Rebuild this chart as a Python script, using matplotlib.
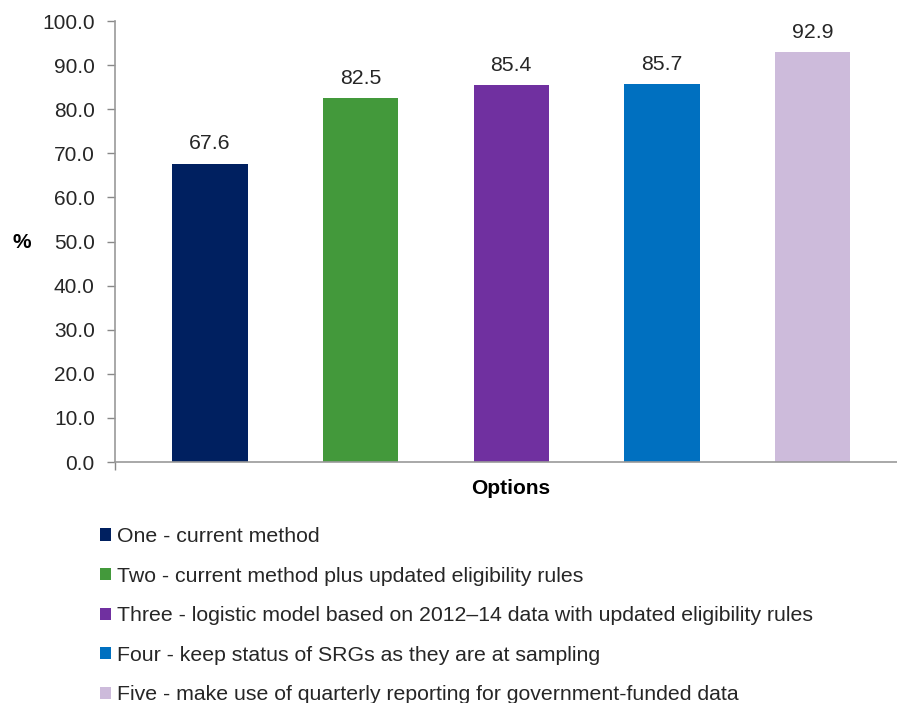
import matplotlib.pyplot as plt
from matplotlib.patches import Patch

plt.rcParams['font.family'] = ['Liberation Sans', 'DejaVu Sans']

# --- data ---
options = ['One - current method',
           'Two - current method plus updated eligibility rules',
           'Three - logistic model based on 2012\u201314 data with updated eligibility rules',
           'Four - keep status of SRGs as they are at sampling',
           'Five - make use of quarterly reporting for government-funded data']
values = [67.6, 82.5, 85.4, 85.7, 92.9]
colors = ['#002060', '#43993B', '#7030A0', '#0070C0', '#CDBBDB']
yticks = [0, 10, 20, 30, 40, 50, 60, 70, 80, 90, 100]

fig = plt.figure(figsize=(8.97, 7.03), dpi=100)
ax = fig.add_axes([0.1282, 0.3428, 0.8718, 0.6273])

x = list(range(len(values)))
ax.bar(x, values, width=0.5, color=colors, zorder=2)

for xi, v in zip(x, values):
    ax.annotate(f'{v:.1f}', (xi, v), xytext=(0, 7.5), textcoords='offset points',
                ha='center', va='bottom', fontsize=15.3, color='#262626')

ax.set_xlim(-0.63, 4.56)
ax.set_ylim(0, 100)
ax.set_yticks(yticks)
ax.set_yticklabels([f'{t:.1f}' for t in yticks], fontsize=15, color='#262626')
ax.set_xticks([-0.63])
ax.set_xticklabels([''])
ax.tick_params(axis='y', direction='out', length=6, color='#888888', width=1, pad=8.5)
ax.tick_params(axis='x', direction='out', length=6, color='#888888', width=1)

for side in ['top', 'right']:
    ax.spines[side].set_visible(False)
for side in ['left', 'bottom']:
    ax.spines[side].set_color('#999999')
    ax.spines[side].set_linewidth(1.2)

fig.text(22 / 897, 1 - 243 / 703, '%', fontsize=15, fontweight='bold',
         ha='center', va='center', color='#000000')
fig.text(511 / 897, 1 - 489 / 703, 'Options', fontsize=15, fontweight='bold',
         ha='center', va='center', color='#000000')

handles = [Patch(facecolor=c, edgecolor='none') for c in colors]
fig.legend(handles, options, loc='upper left', bbox_to_anchor=(100 / 897, 1 - 527 / 703),
           frameon=False, fontsize=15.3, handlelength=0.5, handleheight=0.5,
           handletextpad=0.3, labelspacing=0.97, borderpad=0, borderaxespad=0,
           labelcolor='#262626')

fig.savefig('out.png', dpi=100)
